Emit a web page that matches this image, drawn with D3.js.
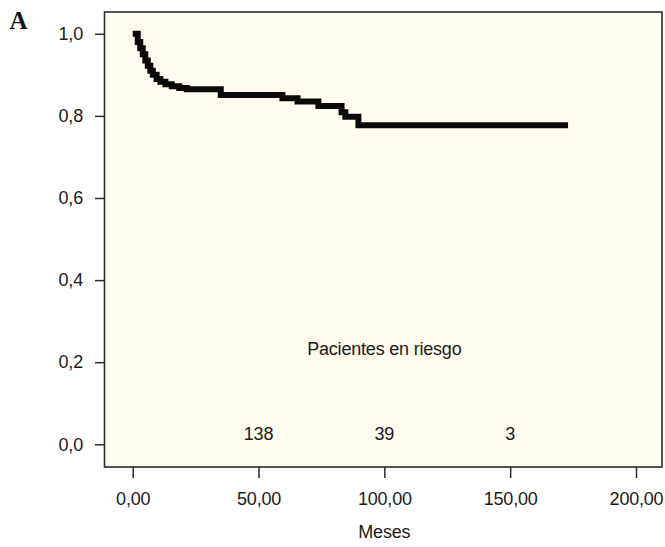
<!DOCTYPE html>
<html>
<head>
<meta charset="utf-8">
<script src="https://cdn.jsdelivr.net/npm/d3@7"></script>
<style>
  html, body { margin: 0; padding: 0; background: #ffffff; }
  svg { display: block; }
  .lbl { font-family: "Liberation Sans", Arial, sans-serif; font-size: 18px; fill: #1a1a1a; letter-spacing: -0.2px; }
</style>
</head>
<body>
<svg id="chart" width="665" height="547"></svg>
<script>
// ---- data ----
const times    = [0, 2, 3, 4, 5, 6, 7, 8, 9.5, 11, 13, 15.5, 18.5, 21.5, 35, 59.5, 65.5, 73.8, 83, 84.5, 89.7, 173];
const survival = [1.0, 0.98, 0.965, 0.95, 0.935, 0.922, 0.91, 0.90, 0.89, 0.883, 0.877, 0.872, 0.868, 0.865, 0.851, 0.843, 0.835, 0.824, 0.809, 0.798, 0.777, 0.777];
const xTicks = [0, 50, 100, 150, 200];
const yTicks = [0, 0.2, 0.4, 0.6, 0.8, 1.0];
const riskTimes = [50, 100, 150];
const riskCounts = [138, 39, 3];
const riskTitle = "Pacientes en riesgo";
const xTitle = "Meses";
const panelLabel = "A";

const svg = d3.select("#chart");
const box = { left: 104.5, top: 12, right: 662, bottom: 467 };

const x = d3.scaleLinear().domain([0, 200]).range([132.7, 636]);
const y = d3.scaleLinear().domain([0, 1]).range([444.3, 33.8]);

// panel
svg.append("rect")
  .attr("x", box.left).attr("y", box.top)
  .attr("width", box.right - box.left).attr("height", box.bottom - box.top)
  .attr("fill", "#fffcef").attr("stroke", "#2b2b2b").attr("stroke-width", 1.6);

// x axis
const fmt2 = d => d3.format(".2f")(d).replace(".", ",");
const fmt1 = d => d3.format(".1f")(d).replace(".", ",");
const xAxis = svg.append("g").attr("transform", `translate(0,${box.bottom})`)
  .call(d3.axisBottom(x).tickValues(xTicks).tickFormat(fmt2).tickSize(11).tickPadding(14));
xAxis.select(".domain").remove();
xAxis.selectAll("line").attr("stroke", "#2b2b2b").attr("stroke-width", 1.5);
xAxis.selectAll("text").attr("class", "lbl").attr("font-size", null).attr("font-family", null).attr("fill", null);

// y axis
const yAxis = svg.append("g").attr("transform", `translate(${box.left},0)`)
  .call(d3.axisLeft(y).tickValues(yTicks).tickFormat(fmt1).tickSize(9.5).tickPadding(12));
yAxis.select(".domain").remove();
yAxis.selectAll("line").attr("stroke", "#2b2b2b").attr("stroke-width", 1.5);
yAxis.selectAll("text").attr("class", "lbl").attr("font-size", null).attr("font-family", null).attr("fill", null);

// survival curve
const line = d3.line().x((d, i) => x(times[i])).y(d => y(d)).curve(d3.curveStepAfter);
svg.append("path")
  .attr("d", line(survival))
  .attr("fill", "none").attr("stroke", "#0a0a0a").attr("stroke-width", 6)
  .attr("stroke-linejoin", "miter").attr("stroke-linecap", "butt");

// at-risk
svg.append("text").attr("class", "lbl").attr("x", x(100)).attr("y", 355)
  .attr("text-anchor", "middle").text(riskTitle);
svg.selectAll(".risk").data(riskCounts).enter().append("text")
  .attr("class", "lbl risk").attr("x", (d, i) => x(riskTimes[i])).attr("y", 440)
  .attr("text-anchor", "middle").text(d => d);

// x title
svg.append("text").attr("class", "lbl").attr("x", x(100)).attr("y", 538)
  .attr("text-anchor", "middle").text(xTitle);

// panel label
svg.append("text").attr("x", 9.5).attr("y", 28.5)
  .attr("font-family", "Liberation Serif, 'DejaVu Serif', serif").attr("font-weight", "bold")
  .attr("font-size", 25).attr("fill", "#111").text(panelLabel);
</script>
</body>
</html>
